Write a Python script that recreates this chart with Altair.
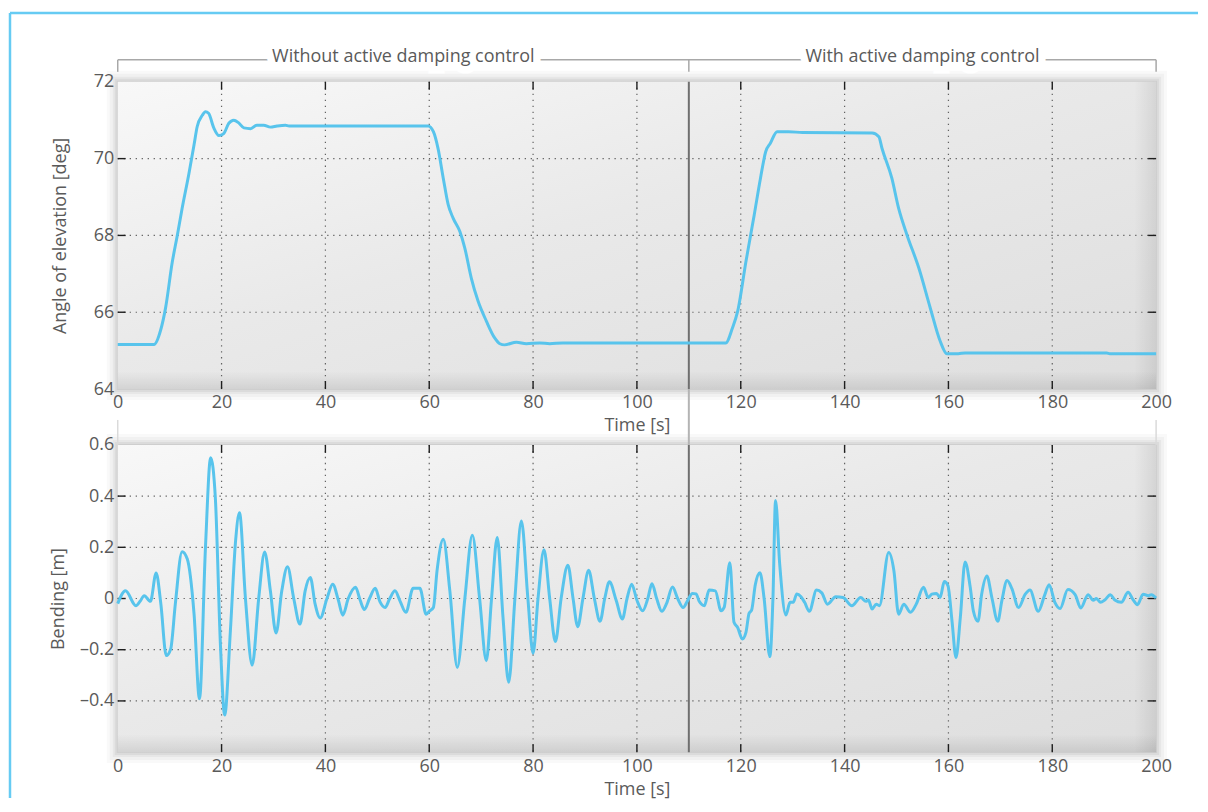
import altair as alt
import pandas as pd

# ---------------- data ----------------
T_ANGLE = [0, 7.0, 8.3, 9.2, 10.5, 11.5, 12.4, 13.7, 14.7, 15.3, 16.3, 16.9, 17.5, 18.5, 19.5,
           20.4, 21.4, 22.35, 23.3, 24.3, 25.6, 26.8, 28.1, 29.4, 30.7, 32.3, 33.0, 59.8, 60.8,
           61.7, 62.7, 63.65, 64.6, 65.9, 66.85, 68.1, 69.4, 71.0, 72.6, 73.6, 74.5, 76.8, 78.7,
           81.3, 83.2, 85.7, 117.1, 118.4, 119.4, 121.0, 122.6, 123.8, 124.8, 125.7, 127.0,
           129.2, 131.9, 145.3, 146.6, 147.2, 149.1, 150.4, 152.0, 154.3, 156.5, 158.4, 159.7,
           161.9, 163.2, 190.5, 191.1, 200.0]
ANGLE = [65.16, 65.16, 65.55, 66.1, 67.3, 68.02, 68.7, 69.6, 70.36, 70.83, 71.13, 71.22, 71.18,
         70.8, 70.6, 70.65, 70.92, 71.0, 70.93, 70.8, 70.78, 70.87, 70.87, 70.82, 70.85, 70.87,
         70.85, 70.85, 70.7, 70.26, 69.49, 68.8, 68.45, 68.1, 67.67, 66.89, 66.29, 65.77, 65.33,
         65.18, 65.15, 65.22, 65.18, 65.2, 65.18, 65.2, 65.2, 65.59, 66.02, 67.32, 68.54, 69.49,
         70.18, 70.4, 70.7, 70.7, 70.68, 70.67, 70.57, 70.27, 69.49, 68.71, 68.02, 67.15, 66.11,
         65.25, 64.92, 64.92, 64.94, 64.94, 64.92, 64.92]

T_BEND = [0, 1.5, 3.5, 4.3, 5.1, 6.3, 7.4, 8.3, 9.35, 10.2, 11.1, 12.4, 13.4, 14.7, 15.75, 16.9,
          17.9, 18.8, 19.8, 20.6, 21.7, 22.7, 23.45, 24.6, 25.9, 27.15, 28.3, 29.4, 30.5, 31.6,
          32.7, 33.9, 35.1, 36.1, 37.1, 38.0, 39.0, 40.3, 41.4, 42.5, 43.35, 44.4, 45.8, 46.7,
          47.5, 48.5, 49.6, 50.5, 51.5, 52.4, 53.4, 54.4, 55.5, 56.9, 58.2, 59.4, 60.1, 60.8,
          61.5, 62.7, 63.97, 65.4, 66.86, 68.3, 69.7, 71.0, 72.0, 73.1, 74.2, 75.3, 76.5, 77.75,
          79.0, 80.0, 80.95, 82.1, 83.2, 84.3, 85.4, 86.7, 87.7, 88.6, 89.6, 90.7, 91.8, 92.9,
          93.8, 94.7, 96.0, 97.2, 98.1, 99.0, 100.0, 101.1, 102.1, 102.9, 103.8, 104.8, 105.7,
          106.85, 107.85, 108.9, 109.8, 110.7, 111.4, 112.0, 113.0, 113.9, 115.1, 116.2, 116.8,
          117.9, 118.7, 119.4, 120.3, 121.0, 121.6, 122.1, 122.8, 123.7, 124.5, 125.6, 126.2,
          126.7, 127.5, 128.7, 129.5, 130.1, 130.8, 131.6, 132.3, 133.2, 134.6, 135.6, 136.7,
          138.3, 139.7, 141.4, 143.1, 144.1, 144.6, 145.3, 146.1, 146.7, 148.5, 149.5, 150.4,
          151.4, 152.7, 153.8, 155.2, 156.1, 156.8, 157.7, 158.4, 159.2, 159.9, 160.7, 161.45,
          162.3, 163.2, 164.2, 164.8, 165.7, 166.4, 167.4, 168.4, 169.5, 170.3, 171.3, 172.2,
          173.5, 174.8, 175.7, 177.3, 178.5, 179.4, 180.5, 181.5, 183.0, 184.4, 185.5, 186.9,
          187.9, 188.5, 189.3, 190.1, 191.2, 192.05, 193.3, 194.6, 195.6, 196.4, 197.5, 198.5,
          199.1, 200.0]
BEND = [-0.02, 0.03, -0.028, -0.011, 0.011, -0.011, 0.10, -0.02, -0.223, -0.197, -0.02, 0.183,
        0.154, -0.06, -0.392, 0.2, 0.55, 0.394, -0.19, -0.455, -0.126, 0.225, 0.335, 0.0, -0.26,
        0.0, 0.182, 0.03, -0.135, 0.03, 0.124, 0.0, -0.10, 0.03, 0.082, -0.02, -0.076, 0.0,
        0.056, -0.007, -0.065, 0.0, 0.044, -0.007, -0.043, 0.0, 0.04, -0.012, -0.035, 0.0, 0.03,
        -0.011, -0.054, 0.04, 0.04, -0.061, -0.048, -0.035, 0.108, 0.231, 0.03, -0.269, 0.0,
        0.247, 0.0, -0.243, 0.0, 0.238, -0.072, -0.327, 0.0, 0.303, 0.0, -0.214, 0.0, 0.19, 0.0,
        -0.168, 0.0, 0.13, 0.0, -0.11, 0.0, 0.11, 0.0, -0.089, 0.0, 0.065, -0.007, -0.08, 0.0,
        0.056, -0.007, -0.048, 0.0, 0.058, 0.0, -0.05, -0.02, 0.045, 0.0, -0.035, -0.007, 0.02,
        0.018, -0.011, -0.028, 0.033, 0.03, -0.048, -0.035, 0.14, -0.093, -0.113, -0.158,
        -0.132, -0.058, -0.045, 0.054, 0.101, 0.0, -0.227, 0.0, 0.383, 0.134, -0.064, -0.015,
        -0.015, 0.018, 0.007, -0.015, -0.05, 0.033, 0.022, -0.022, 0.007, 0.004, -0.028, 0.004,
        -0.011, -0.006, -0.041, -0.022, -0.028, 0.18, 0.108, -0.061, -0.022, -0.054, -0.022,
        0.044, 0.004, 0.017, 0.02, 0.004, 0.066, 0.05, -0.09, -0.23, -0.072, 0.143, 0.044,
        -0.048, -0.089, 0.017, 0.088, 0.0, -0.089, -0.007, 0.07, 0.04, -0.035, 0.017, 0.033,
        -0.05, 0.011, 0.054, -0.015, -0.039, 0.035, 0.015, -0.037, 0.015, -0.007, 0.0, -0.015,
        -0.006, 0.015, -0.006, -0.015, 0.024, -0.006, -0.024, 0.017, 0.011, 0.015, 0.002]

X_TICKS = [0, 20, 40, 60, 80, 100, 120, 140, 160, 180, 200]
ANGLE_TICKS = [64, 66, 68, 70, 72]
BEND_TICKS = [-0.4, -0.2, 0, 0.2, 0.4, 0.6]
X_DOMAIN = [0, 200]
ANGLE_DOMAIN = [64, 72]
BEND_DOMAIN = [-0.6, 0.6]
SPLIT_T = [110]
BRACKET_T = [0, 110, 200]
SECTION_LABELS = ["Without active damping control", "With active damping control"]
SECTION_T = [55, 155]

# ---------------- style ----------------
W, H = 1041, 308
GAP = 56
LINE_COLOR = "#58c4ec"
FRAME_COLOR = "#66cbf3"
TEXT_COLOR = "#5a5a5a"
FONT = "Open Sans"
FS = 18

angle_df = pd.DataFrame({"t": T_ANGLE, "v": ANGLE})
bend_df = pd.DataFrame({"t": T_BEND, "v": BEND})
one = pd.DataFrame({"t": [X_DOMAIN[0]], "t_end": [X_DOMAIN[1]]})
xgrid_df = pd.DataFrame({"t": X_TICKS[1:-1]})
split_df = pd.DataFrame({"t": SPLIT_T})
bracket_df = pd.DataFrame({"t": BRACKET_T})
edge_df = pd.DataFrame({"t": [X_DOMAIN[0], X_DOMAIN[1]]})
section_df = pd.DataFrame({"t": SECTION_T, "label": SECTION_LABELS})

x_scale = alt.Scale(domain=X_DOMAIN, nice=False, zero=False)
x_axis = alt.Axis(values=X_TICKS, title="Time [s]", format="d", labelFlush=False,
                  labelOverlap=False, labelPadding=5, titlePadding=5,
                  domain=False, ticks=False, grid=False, zindex=1)
X = alt.X("t:Q", scale=x_scale, axis=x_axis)


def panel(df, ticks, domain, title, label_expr, title_x, extra_top=None, extra_bottom=None):
    y_scale = alt.Scale(domain=domain, nice=False, zero=False)
    y_axis = alt.Axis(values=ticks, title=title, labelExpr=label_expr, labelFlush=False,
                      labelOverlap=False, labelPadding=4, titleX=title_x,
                      titleBaseline="middle", domain=False, ticks=False, grid=False, zindex=1)
    Y = alt.Y("v:Q", scale=y_scale, axis=y_axis)
    ygrid = pd.DataFrame({"v": [v for v in ticks if domain[0] < v < domain[1]]})

    layers = []
    # soft shadow around plot area
    for k, op in [(11, 0.025), (8, 0.03), (5, 0.04), (3, 0.05), (1, 0.06)]:
        layers.append(alt.Chart(one).mark_rect(color="black", opacity=op).encode(
            x=alt.value(-k), x2=alt.value(W + k), y=alt.value(-k), y2=alt.value(H + k)))
    # gradient background
    bg = alt.LinearGradient(gradient="linear", x1=0, y1=0, x2=1, y2=1, stops=[
        alt.GradientStop(color="#f8f8f8", offset=0),
        alt.GradientStop(color="#e9e9e9", offset=0.45),
        alt.GradientStop(color="#dedede", offset=1)])
    layers.append(alt.Chart(one).mark_rect(color=bg).encode(
        x=alt.value(0), x2=alt.value(W), y=alt.value(0), y2=alt.value(H)))
    right_band = alt.LinearGradient(gradient="linear", x1=0, y1=0, x2=1, y2=0, stops=[
        alt.GradientStop(color="rgba(0,0,0,0)", offset=0),
        alt.GradientStop(color="rgba(0,0,0,0.08)", offset=1)])
    layers.append(alt.Chart(one).mark_rect(color=right_band).encode(
        x=alt.value(W - 22), x2=alt.value(W), y=alt.value(0), y2=alt.value(H)))
    bottom_band = alt.LinearGradient(gradient="linear", x1=0, y1=0, x2=0, y2=1, stops=[
        alt.GradientStop(color="rgba(0,0,0,0)", offset=0),
        alt.GradientStop(color="rgba(0,0,0,0.09)", offset=1)])
    layers.append(alt.Chart(one).mark_rect(color=bottom_band).encode(
        x=alt.value(0), x2=alt.value(W), y=alt.value(H - 18), y2=alt.value(H)))

    # dotted grid
    grid_style = dict(color="#4a4a4a", strokeDash=[1.3, 4.7], strokeWidth=1.2, opacity=0.85)
    layers.append(alt.Chart(xgrid_df).mark_rule(**grid_style).encode(
        x=X, y=alt.value(0), y2=alt.value(H)))
    layers.append(alt.Chart(ygrid).mark_rule(**grid_style).encode(
        y=Y, x=alt.value(0), x2=alt.value(W)))
    # inner ticks
    tick_style = dict(color="#1e1e1e", strokeWidth=1.4)
    layers.append(alt.Chart(xgrid_df).mark_rule(**tick_style).encode(
        x=X, y=alt.value(0), y2=alt.value(8)))
    layers.append(alt.Chart(xgrid_df).mark_rule(**tick_style).encode(
        x=X, y=alt.value(H - 8), y2=alt.value(H)))
    layers.append(alt.Chart(ygrid).mark_rule(**tick_style).encode(
        y=Y, x=alt.value(0), x2=alt.value(8)))
    layers.append(alt.Chart(ygrid).mark_rule(**tick_style).encode(
        y=Y, x=alt.value(W - 8), x2=alt.value(W)))
    # divider at the switch-on time
    layers.append(alt.Chart(split_df).mark_rule(color="#6f6f6f", strokeWidth=2).encode(
        x=X, y=alt.value(0), y2=alt.value(H)))
    if extra_top:
        layers.extend(extra_top)
    # data line
    layers.append(alt.Chart(df).mark_line(color=LINE_COLOR, strokeWidth=3,
                                          interpolate="monotone").encode(x=X, y=Y))
    if extra_bottom:
        layers.extend(extra_bottom)
    return alt.layer(*layers).properties(width=W, height=H)


# header bracket + outer frame (top panel)
header = [
    alt.Chart(one).mark_rule(color=FRAME_COLOR, strokeWidth=2.5).encode(
        x=alt.value(-108), x2=alt.value(1083), y=alt.value(-69)),
    alt.Chart(one).mark_rule(color=FRAME_COLOR, strokeWidth=2.5).encode(
        x=alt.value(-108), y=alt.value(-69), y2=alt.value(718)),
    alt.Chart(one).mark_rule(color="#a8a8a8", strokeWidth=1.5).encode(
        x=X, x2="t_end:Q", y=alt.value(-22)),
    alt.Chart(bracket_df).mark_rule(color="#a8a8a8", strokeWidth=1.5).encode(
        x=X, y=alt.value(-22), y2=alt.value(-10)),
    alt.Chart(section_df).mark_text(color="white", stroke="white", strokeWidth=15,
                                    font=FONT, fontSize=FS, baseline="middle").encode(
        x=X, y=alt.value(-25), text="label:N"),
    alt.Chart(section_df).mark_text(color=TEXT_COLOR, font=FONT, fontSize=FS,
                                    baseline="middle").encode(
        x=X, y=alt.value(-25), text="label:N"),
]

gap_lines = [
    alt.Chart(edge_df).mark_rule(color="#dadada", strokeWidth=1.5).encode(
        x=X, y=alt.value(-25), y2=alt.value(0)),
    alt.Chart(split_df).mark_rule(color="#b4b4b4", strokeWidth=2).encode(
        x=X, y=alt.value(-GAP), y2=alt.value(0)),
]

top = panel(angle_df, ANGLE_TICKS, ANGLE_DOMAIN, "Angle of elevation [deg]",
            "format(datum.value, 'd')", -57, extra_bottom=header)
bottom = panel(bend_df, BEND_TICKS, BEND_DOMAIN, "Bending [m]",
               "datum.value == 0 ? '0' : (datum.value < 0 ? '\u2013' : '') + format(abs(datum.value), '.1f')",
               -59, extra_top=None, extra_bottom=gap_lines)

chart = alt.vconcat(top, bottom, spacing=GAP, bounds="flush").properties(
    padding={"left": 0, "top": 2, "right": 0, "bottom": 0},
    background="white",
).configure_view(stroke=None).configure_axis(
    labelFont=FONT, labelFontSize=FS, labelColor=TEXT_COLOR,
    titleFont=FONT, titleFontSize=FS, titleColor=TEXT_COLOR, titleFontWeight="normal"
)

chart.save("out.html", embed_options={"renderer": "svg", "actions": False})
